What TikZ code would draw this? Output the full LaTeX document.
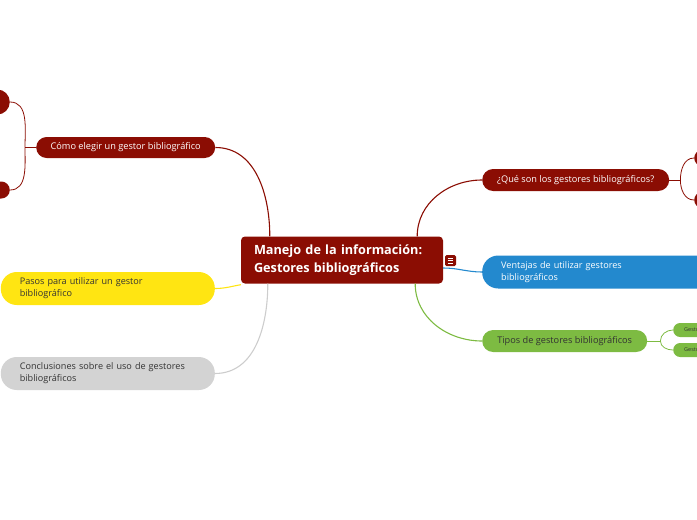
\documentclass[tikz,border=0pt]{standalone}
\usepackage{fontspec}
\setmainfont{Open Sans}
\usepackage{tikz}
\usetikzlibrary{positioning, calc}
\definecolor{mapred}{RGB}{139, 13, 3}
\definecolor{mapblue}{RGB}{35, 137, 206}
\definecolor{mapgreen}{RGB}{125, 187, 66}
\definecolor{mapyellow}{RGB}{255, 229, 18}
\definecolor{mapgrey}{RGB}{211, 211, 211}
\definecolor{linkgrey}{RGB}{205, 205, 205}
\definecolor{darktext}{RGB}{51, 51, 51}

\begin{document}
\begin{tikzpicture}[x=1pt, y=-1pt,
    central/.style={rectangle, rounded corners=4pt, fill=mapred, text=white, minimum width=202pt, minimum height=47pt, text width=176pt, inner xsep=13pt, align=left, font=\fontsize{12.7}{18}\selectfont\bfseries},
    topic/.style={rectangle, rounded corners=11pt, minimum height=22pt, inner sep=0pt, align=center, font=\fontsize{9.2}{11}\selectfont},
    wide/.style={rectangle, rounded corners=16pt, minimum height=33pt, inner xsep=19pt, inner ysep=0pt, align=left, font=\fontsize{9.1}{12}\selectfont},
    leaf/.style={rectangle, rounded corners=7pt, minimum height=14pt, minimum width=60pt, inner xsep=11pt, inner ysep=0pt, text width=38pt, align=left, font=\fontsize{5.5}{6}\selectfont},
    link/.style={line width=1.1pt},
    twig/.style={line width=0.8pt}
]
\useasboundingbox (0,0) rectangle (697,520);
\clip (0,0) rectangle (697,520);

\node (central) [central] at (342,260) {Manejo de la información:\\Gestores bibliográficos};
\node (notes) [rectangle, rounded corners=1.5pt, fill=mapred, minimum size=11pt, inner sep=0pt] at (450.5,260.5) {};
\foreach \dy in {-2.4,0,2.4}
  \draw [white, line width=0.7pt] ($(notes.center)+(-2.6,\dy)$) -- ++(5.2,0);

% left side
\node (como) [topic, fill=mapred, text=white, minimum width=179pt, minimum height=21pt, rounded corners=10.5pt, anchor=west] at (36,147.5) {Cómo elegir un gestor bibliográfico};
\node (como1) [topic, fill=mapred, minimum width=40pt, minimum height=25pt, rounded corners=12.5pt, anchor=east] at (10,102) {};
\node (como2) [topic, fill=mapred, minimum width=40pt, minimum height=17pt, rounded corners=8.5pt, anchor=east] at (10,190) {};
\node (pasos) [wide, fill=mapyellow, text=darktext, text width=176pt, anchor=east] at (215,288.5) {Pasos para utilizar un gestor\\bibliográfico};
\node (concl) [wide, fill=mapgrey, text=darktext, text width=176pt, anchor=east] at (215,373.5) {Conclusiones sobre el uso de gestores\\bibliográficos};

% right side
\node (que) [topic, fill=mapred, text=white, minimum width=187pt, anchor=west] at (482,180) {¿Qué son los gestores bibliográficos?};
\node (que1) [topic, fill=mapred, minimum width=40pt, minimum height=16pt, rounded corners=8pt, anchor=west] at (694,158) {};
\node (que2) [topic, fill=mapred, minimum width=40pt, minimum height=16pt, rounded corners=8pt, anchor=west] at (694,200) {};
\node (vent) [wide, fill=mapblue, text=white, text width=202pt, anchor=west] at (482,272) {Ventajas de utilizar gestores\\bibliográficos};
\node (tipos) [topic, fill=mapgreen, text=darktext, minimum width=165pt, anchor=west] at (482,341) {Tipos de gestores bibliográficos};
\node (tipos1) [leaf, fill=mapgreen, text=darktext, anchor=west] at (673,330) {Gestores};
\node (tipos2) [leaf, fill=mapgreen, text=darktext, anchor=west] at (673,350) {Gestores};

% connectors
\draw [link, mapred] (como.east) to[out=0, in=90] ($(central.north west)+(29,0)$);
\draw [link, mapred] ($(central.north east)+(-26,0)$) to[out=90, in=180] (que.west);
\draw [link, mapblue] ($(central.east)+(0,8)$) to[out=0, in=180] (vent.west);
\draw [link, mapgreen] ($(central.south east)+(-28,0)$) to[out=-90, in=180] (tipos.west);
\draw [link, mapyellow] ($(central.south west)+(0,1)$) to[out=190, in=0] (pasos.east);
\draw [link, linkgrey] ($(central.south west)+(27,0)$) to[out=-90, in=0] (concl.east);

\draw [twig, mapred] (como.west) -- ++(-11,0) coordinate (comob);
\draw [twig, mapred] (comob) to[out=90, in=0] (como1.east);
\draw [twig, mapred] (comob) to[out=-90, in=0] (como2.east);

\draw [twig, mapred] (que.east) -- ++(11,0) coordinate (queb);
\draw [twig, mapred] (queb) to[out=90, in=180] (que1.west);
\draw [twig, mapred] (queb) to[out=-90, in=180] (que2.west);

\draw [twig, mapgreen] (tipos.east) -- ++(13,0) coordinate (tiposb);
\draw [twig, mapgreen] (tiposb) to[out=90, in=180] (tipos1.west);
\draw [twig, mapgreen] (tiposb) to[out=-90, in=180] (tipos2.west);

\end{tikzpicture}
\end{document}
